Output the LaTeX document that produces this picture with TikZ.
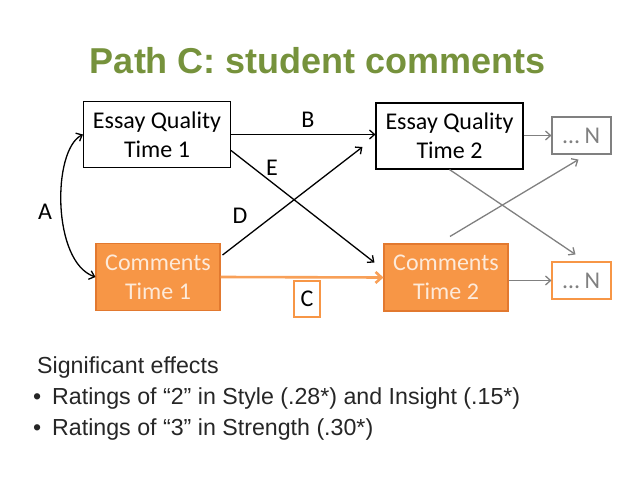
\documentclass[tikz,border=0pt]{standalone}
\usepackage{fontspec}
\setmainfont{Carlito}
\newfontfamily\arialfont{Liberation Sans}
\usetikzlibrary{calc,positioning,arrows.meta}
\definecolor{titlegreen}{HTML}{76923C}
\definecolor{cmtorange}{HTML}{F79646}
\definecolor{cmtedge}{HTML}{E2792F}
\definecolor{cmttext}{HTML}{FDEADA}
\definecolor{pathgray}{HTML}{808080}

\begin{document}
\begin{tikzpicture}[x=1pt, y=-1pt,
    essay/.style={rectangle, draw, line width=1.1pt, fill=white, align=center, font=\fontsize{24}{29}\selectfont, minimum width=147pt, minimum height=66pt},
    comment/.style={rectangle, draw=cmtedge, line width=1.1pt, fill=cmtorange, text=cmttext, align=center, font=\fontsize{24}{29}\selectfont, minimum width=124pt, minimum height=67pt},
    nbox/.style={rectangle, draw, line width=1.1pt, fill=white, text=pathgray, font=\fontsize{24}{29}\selectfont, minimum width=59pt, minimum height=37pt},
    lbl/.style={font=\fontsize{24}{29}\selectfont},
    arrow/.style={-{Straight Barb[length=5pt, width=9pt]}, line width=1.3pt},
    grayarrow/.style={arrow, pathgray},
    bullet/.style={anchor=base west, inner sep=0pt, font=\arialfont\fontsize{23.2}{28}\selectfont, text=black!85}
]
\useasboundingbox (0,0) rectangle (638,479);

% title
\node[font=\arialfont\bfseries\fontsize{36}{42}\selectfont, text=titlegreen] (title) at (318,61) {Path C: student comments};

% time 1 and time 2
\node[essay] (e1) at (157,134.5) {Essay Quality\\Time 1};
\node[comment] (c1) at (158,277) {Comments\\Time 1};
\node[essay] (e2) at (449.5,136) {Essay Quality\\Time 2};
\node[comment] (c2) at (446,277.5) {Comments\\Time 2};

% later waves
\node[nbox, draw=pathgray] (ntop) at (581.5,135.5) {\dots\ N};
\node[nbox, draw=cmtorange] (nbot) at (581.5,280.5) {\dots\ N};

% paths
\draw[arrow, {Straight Barb[length=5pt, width=9pt]}-{Straight Barb[length=5pt, width=9pt]}]
    (e1.west) .. controls (52,150) and (52,262) .. (c1.west);
\draw[arrow] (e1.east) -- (e2.west |- e1.east);
\draw[arrow] ($(e1.east)+(0,16)$) -- ($(c2.west)+(-9,-15)$);
\draw[arrow] ($(c1.east)+(2,-22)$) -- ($(e2.west)+(-13,11)$);
\draw[arrow, cmtorange!90!white, line width=2.6pt, -{Straight Barb[length=6pt, width=11pt]}] (c1.east) -- (c2.west);

\draw[grayarrow] (e2.east |- ntop.west) -- (ntop.west);
\draw[grayarrow] (c2.east |- nbot.west) -- (nbot.west);
\draw[grayarrow] (e2.south) -- ($(nbot.north)+(-6,-7)$);
\draw[grayarrow] ($(c2.north)+(4,-7)$) -- ($(ntop.south)+(-3,5)$);

% path labels
\node[lbl] (la) at (45,212) {A};
\node[lbl] (lb) at (308,120) {B};
\node[lbl] (le) at (272,168) {E};
\node[lbl] (ld) at (240,216) {D};
\node[nbox, draw=cmtorange, text=black, minimum width=26pt, minimum height=36pt, inner sep=0pt] (lc) at (307,299) {C};

% effects
\node[bullet] (sig) at (37,373) {Significant effects};
\node[bullet] (b1) at (33,404) {\textbullet};
\node[bullet] (r2) at (52,404) {Ratings of “2” in Style (.28*) and Insight (.15*)};
\node[bullet] (b2) at (33,435) {\textbullet};
\node[bullet] (r3) at (52,435) {Ratings of “3” in Strength (.30*)};
\end{tikzpicture}
\end{document}
